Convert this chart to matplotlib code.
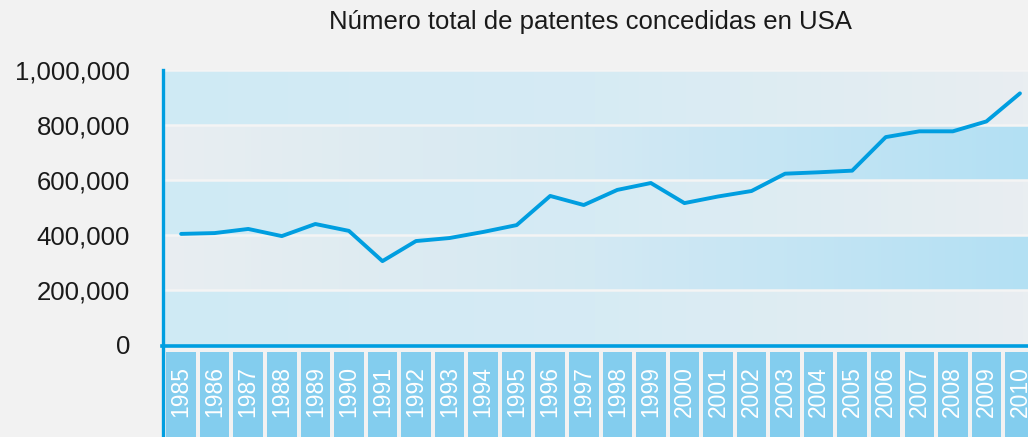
import numpy as np
import matplotlib
matplotlib.use("Agg")
import matplotlib.pyplot as plt
from matplotlib.colors import LinearSegmentedColormap

years = list(range(1985, 2011))
patents = [404000, 407000, 422000, 396000, 440000, 415000, 305000, 378000, 389000,
           411000, 436000, 542000, 509000, 564000, 589000, 516000, 540000, 560000,
           623000, 628000, 634000, 756000, 777000, 777000, 813000, 915000]
yticks = [0, 200000, 400000, 600000, 800000, 1000000]
title = "Número total de patentes concedidas en USA"

plt.rcParams['font.family'] = ['Liberation Sans', 'DejaVu Sans']

W, H = 1028, 437
fig = plt.figure(figsize=(W / 100, H / 100), dpi=100, facecolor='#f2f2f2')

xmin, xmax = 1984.43, 2010.24
ax = fig.add_axes([162 / W, 92 / H, 1 - 162 / W, 275 / H])
ax.set_facecolor('#f2f2f2')
ax.set_xlim(xmin, xmax)
ax.set_ylim(0, 1000000)

cm_a = LinearSegmentedColormap.from_list('a', ['#cfeaf5', '#d6ebf4', '#e9eef1'])
cm_b = LinearSegmentedColormap.from_list('b', ['#e9eef1', '#d3e9f3', '#b3e0f3'])
grad = np.linspace(0, 1, 256).reshape(1, -1)
for i in range(5):
    cm = cm_a if i % 2 == 0 else cm_b
    ax.imshow(grad, cmap=cm, aspect='auto', interpolation='bilinear',
              extent=[xmin, xmax, yticks[i], yticks[i + 1]], zorder=0)
for v in yticks[1:]:
    ax.axhline(v, color='#f4f4f4', lw=1.8, zorder=1)

ax.plot(years, patents, color='#009ee0', lw=2.8, zorder=3, solid_capstyle='round',
        solid_joinstyle='round')

ax.set_yticks(yticks)
ax.set_yticklabels([f"{v:,}" for v in yticks], fontsize=18.5, color='#1a1a1a')
ax.tick_params(axis='y', length=0, pad=23)
ax.set_xticks([])
for s in ['top', 'right', 'bottom', 'left']:
    ax.spines[s].set_visible(False)

# bottom year boxes
bx = fig.add_axes([162 / W, 0, 1 - 162 / W, 92 / H])
bx.set_facecolor('#f2f2f2')
bx.set_xlim(xmin, xmax)
bx.set_ylim(0, 92)
bx.bar(years, 90, width=0.88, bottom=-5, color='#83cdee', zorder=1)
for yr in years:
    bx.text(yr, 71, str(yr), rotation=90, ha='center', va='top', color='white',
            fontsize=16.5, zorder=2)
bx.axis('off')

# axis lines
fig.add_artist(plt.Line2D([163 / W, 163 / W], [0, 367 / H], color='#009ee0', lw=2.4))
fig.add_artist(plt.Line2D([162 / W, 1.0], [91.5 / H, 91.5 / H], color='#009ee0', lw=2.6))

fig.text(590 / W, 1 - 22 / H, title, ha='center', va='center', fontsize=18.5, color='#1a1a1a')

fig.savefig('out.png', dpi=100, facecolor=fig.get_facecolor())
